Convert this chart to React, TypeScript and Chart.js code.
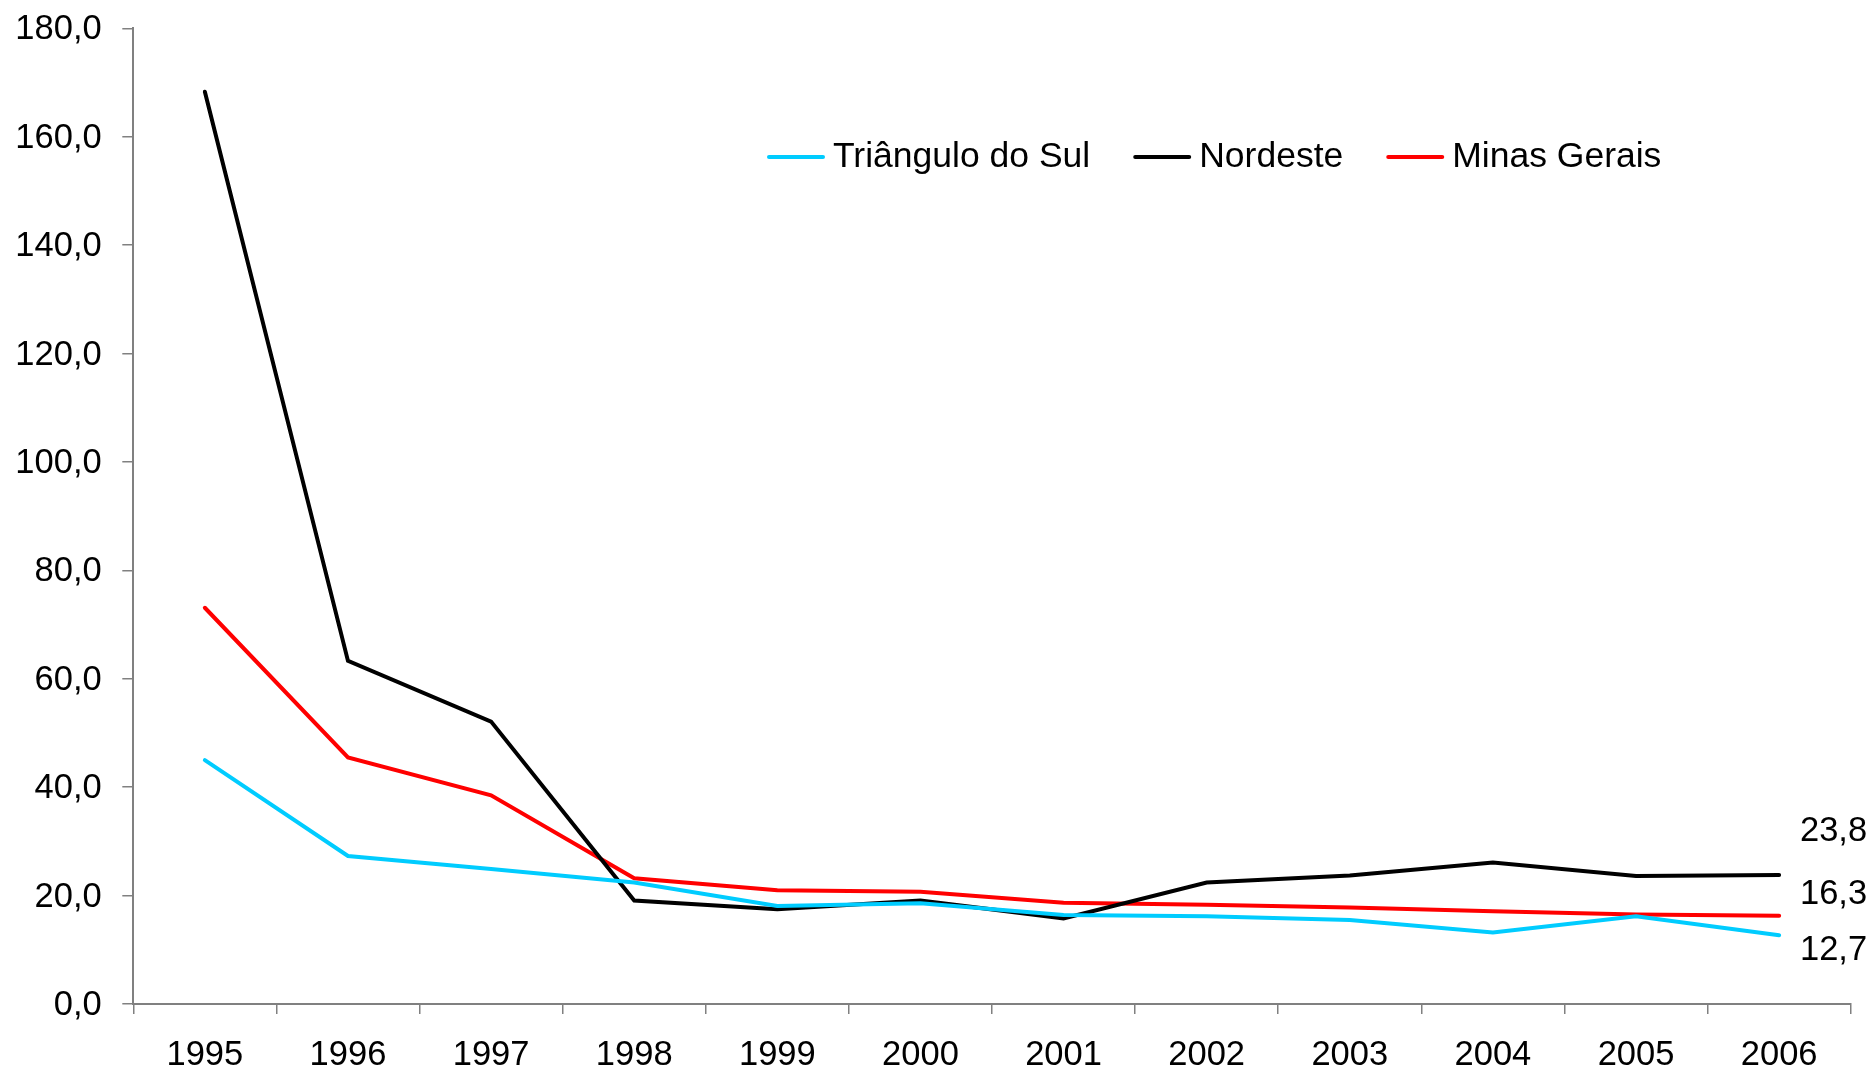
import React, { useEffect, useRef } from 'react';
import { Chart, registerables } from 'chart.js';

Chart.register(...registerables);

// ---- data ----
const years = ['1995', '1996', '1997', '1998', '1999', '2000', '2001', '2002', '2003', '2004', '2005', '2006'];
const trianguloDoSul = [45.0, 27.3, 24.9, 22.4, 18.1, 18.6, 16.4, 16.2, 15.5, 13.2, 16.2, 12.7];
const nordeste = [168.3, 63.3, 52.1, 19.1, 17.5, 19.1, 15.8, 22.4, 23.7, 26.1, 23.6, 23.8];
const minasGerais = [73.1, 45.5, 38.5, 23.2, 21.0, 20.7, 18.7, 18.3, 17.8, 17.1, 16.5, 16.3];
const seriesNames = ['Triângulo do Sul', 'Nordeste', 'Minas Gerais'];
const seriesColors = ['#00CCFF', '#000000', '#FF0000'];
const yMin = 0;
const yMax = 180;
const yStep = 20;

// ---- layout / style ----
const W = 1875;
const H = 1073;
const FONT = '"Liberation Sans", Arial, Helvetica, sans-serif';
const AXIS_GRAY = '#808080';

const fmt = (v: number) => v.toFixed(1).replace('.', ',');

const END_LABEL_DX = 88; // px from last point to right edge of label
const END_LABEL_DY = [15.4, -43.2, -20.9];

const legendPlugin = {
  id: 'customLegend',
  afterDraw(chart: any) {
    const ctx = chart.ctx as CanvasRenderingContext2D;
    ctx.save();
    ctx.font = `35.5px ${FONT}`;
    ctx.textBaseline = 'middle';
    ctx.textAlign = 'left';
    let x = 767;
    const y = 157;
    chart.data.datasets.forEach((ds: any) => {
      ctx.strokeStyle = ds.borderColor;
      ctx.lineWidth = 4;
      ctx.lineCap = 'round';
      ctx.beginPath();
      ctx.moveTo(x + 2, y);
      ctx.lineTo(x + 56, y);
      ctx.stroke();
      const tx = x + 66;
      ctx.fillStyle = '#000000';
      ctx.fillText(ds.label, tx, y);
      x = tx + ctx.measureText(ds.label).width + 43;
    });
    ctx.restore();
  },
};

const endLabelPlugin = {
  id: 'endLabels',
  afterDatasetsDraw(chart: any) {
    const ctx = chart.ctx as CanvasRenderingContext2D;
    ctx.save();
    ctx.font = `34.5px ${FONT}`;
    ctx.fillStyle = '#000000';
    ctx.textAlign = 'right';
    ctx.textBaseline = 'middle';
    chart.data.datasets.forEach((ds: any, i: number) => {
      const meta = chart.getDatasetMeta(i);
      const last = meta.data.length - 1;
      const pt = meta.data[last];
      const v = ds.data[last] as number;
      ctx.fillText(fmt(v), pt.x + END_LABEL_DX, pt.y + END_LABEL_DY[i]);
    });
    ctx.restore();
  },
};

export default function App() {
  const ref = useRef<HTMLCanvasElement>(null);

  useEffect(() => {
    const canvas = ref.current;
    if (!canvas) return;
    const series = [trianguloDoSul, nordeste, minasGerais];
    const chart = new Chart(canvas, {
      type: 'line',
      data: {
        labels: years,
        datasets: series.map((d, i) => ({
          label: seriesNames[i],
          data: d,
          borderColor: seriesColors[i],
          backgroundColor: seriesColors[i],
          borderWidth: 4,
          pointRadius: 0,
          pointHoverRadius: 0,
          tension: 0,
          fill: false,
          borderCapStyle: 'round',
          borderJoinStyle: 'miter',
        })),
      },
      options: {
        responsive: false,
        animation: false,
        devicePixelRatio: 1,
        events: [],
        layout: { padding: { top: 28.3, right: 24.3, bottom: 0, left: 0 } },
        plugins: {
          legend: { display: false },
          tooltip: { enabled: false },
          title: { display: false },
        },
        scales: {
          x: {
            type: 'category',
            offset: true,
            grid: {
              display: true,
              offset: true,
              drawOnChartArea: false,
              drawTicks: true,
              tickLength: 10,
              color: AXIS_GRAY,
              lineWidth: 1.5,
            },
            border: { display: true, color: AXIS_GRAY, width: 2 },
            ticks: {
              color: '#000000',
              font: { family: FONT, size: 34.5 },
              padding: 20.3,
              maxRotation: 0,
              autoSkip: false,
            },
            afterFit: (scale: any) => {
              scale.height = 69;
              scale.paddingLeft = 0;
              scale.paddingRight = 0;
            },
          },
          y: {
            type: 'linear',
            min: yMin,
            max: yMax,
            grid: {
              display: true,
              drawOnChartArea: false,
              drawTicks: true,
              tickLength: 11,
              color: AXIS_GRAY,
              lineWidth: 1.5,
            },
            border: { display: true, color: AXIS_GRAY, width: 2 },
            ticks: {
              stepSize: yStep,
              color: '#000000',
              font: { family: FONT, size: 34.5 },
              padding: 20.6,
              labelOffset: 1.5,
              callback: (v: any) => fmt(Number(v)),
            },
            afterFit: (scale: any) => {
              scale.width = 133.3;
              scale.paddingTop = 0;
              scale.paddingBottom = 0;
            },
          },
        },
      },
      plugins: [endLabelPlugin, legendPlugin],
    } as any);
    return () => chart.destroy();
  }, []);

  return (
    <canvas
      ref={ref}
      width={W}
      height={H}
      style={{
        position: 'absolute',
        left: 0,
        top: 0,
        width: `${W}px`,
        height: `${H}px`,
        background: '#ffffff',
      }}
    />
  );
}
